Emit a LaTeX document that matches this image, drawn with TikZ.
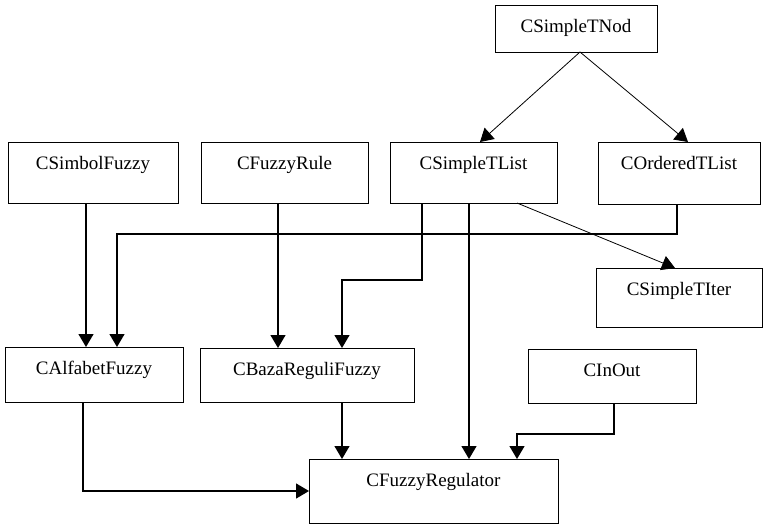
\documentclass[tikz,border=0pt]{standalone}
\usepackage{fontspec}
\setmainfont{Liberation Serif}
\usetikzlibrary{arrows.meta,calc}
\tikzset{
  box/.style={draw, line width=0.9pt, rectangle, inner sep=0pt, outer sep=0pt, anchor=north west},
  lbl/.style={anchor=base, inner sep=0pt, font=\fontsize{19}{22}\selectfont},
  arr/.style={line width=1.3pt, -{Triangle[length=13pt,width=15pt]}},
  thinarr/.style={line width=0.8pt, -{Triangle[length=13pt,width=15pt]}}
}
% place a box by its corners and its name text below the top edge
\newcommand{\classbox}[6]{%
  \node[box, minimum width=#4-#2, minimum height=#5-#3] (#1) at (#2,#3) {};
  \node[lbl] (#1-t) at ($(#1.north)+(0,27)$) {#6};
}
\begin{document}
\begin{tikzpicture}[x=1pt,y=-1pt]
\useasboundingbox (0,0) rectangle (764,525);

\classbox{nod}{495}{5}{657}{52}{CSimpleTNod}
\classbox{simb}{8}{142}{178}{203}{CSimbolFuzzy}
\classbox{rule}{201}{142}{368}{203}{CFuzzyRule}
\classbox{slist}{390}{142}{557}{203}{CSimpleTList}
\classbox{olist}{598}{142}{760}{204}{COrderedTList}
\classbox{iter}{596}{268}{762}{327}{CSimpleTIter}
\classbox{alf}{5}{347}{183}{402}{CAlfabetFuzzy}
\classbox{baza}{200}{348}{414}{402}{CBazaReguliFuzzy}
\classbox{inout}{528}{349}{696}{403}{CInOut}
\classbox{reg}{309}{459}{558}{523}{CFuzzyRegulator}

% node -> lists
\draw[thinarr] ($(nod.south)+(4,0)$) -- ($(slist.north west)+(90,0)$);
\draw[thinarr] ($(nod.south)+(4,0)$) -- ($(olist.north west)+(90,0)$);

% alphabet inputs
\draw[arr] ($(simb.south west)+(78,0)$) coordinate (s1) -- (s1 |- alf.north);
\draw[arr] ($(olist.south west)+(79,0)$) -- ++(0,30) -| ($(alf.north west)+(112,0)$);

% rule base inputs
\draw[arr] ($(rule.south west)+(77,0)$) coordinate (s2) -- (s2 |- baza.north);
\draw[arr] ($(slist.south west)+(32,0)$) -- ++(0,77) -| ($(baza.north west)+(142,0)$);

% list -> iterator
\draw[thinarr] ($(slist.south west)+(127,0)$) -- ($(iter.north west)+(79,0)$);

% regulator inputs
\draw[arr] ($(slist.south west)+(79,0)$) coordinate (s3) -- (s3 |- reg.north);
\draw[arr] ($(baza.south west)+(142,0)$) coordinate (s4) -- (s4 |- reg.north);
\draw[arr] ($(inout.south west)+(86,0)$) -- ++(0,31) -| ($(reg.north west)+(208,0)$);
\draw[arr] ($(alf.south west)+(78,0)$) |- (reg.west);
\end{tikzpicture}
\end{document}
